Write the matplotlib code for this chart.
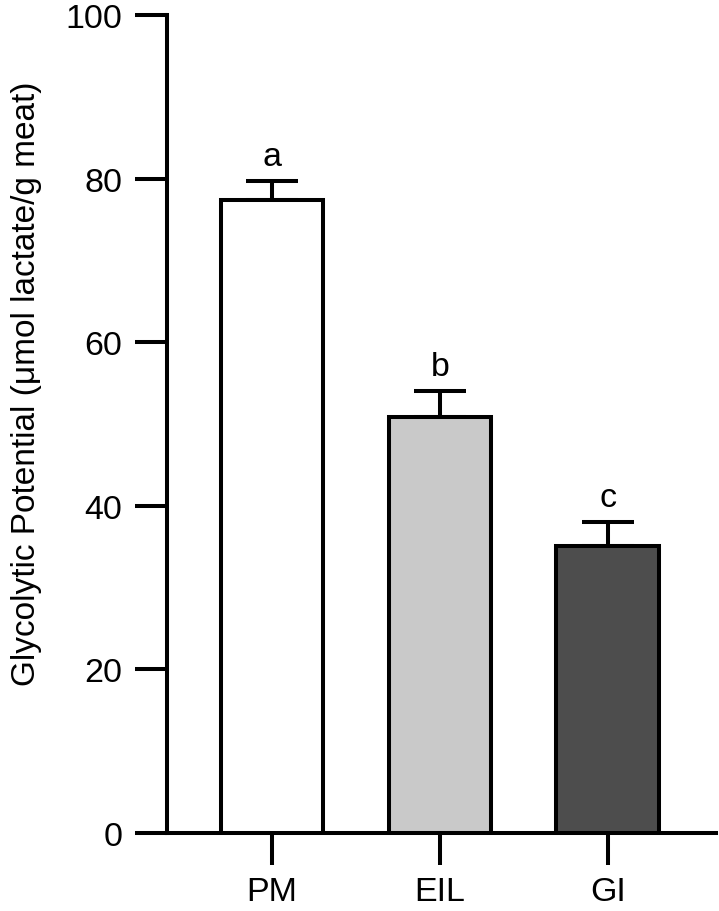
import numpy as np
import matplotlib.pyplot as plt

plt.rcParams['font.family'] = ['Liberation Sans', 'DejaVu Sans']

# --- DATA ---
groups = ['PM', 'EIL', 'GI']
means = [77.4, 50.9, 35.1]
sem = [2.3, 3.1, 2.9]
letters = ['a', 'b', 'c']
colors = ['#ffffff', '#c9c9c9', '#4d4d4d']
yticks = [0, 20, 40, 60, 80, 100]

LW = 2.9
FS = 24.5

fig = plt.figure(figsize=(7.19, 9.12), dpi=100)
ax = fig.add_axes([0.2323, 0.0855, 0.9958 - 0.2323, 0.9825 - 0.0855])

x = np.arange(len(groups))
ax.bar(x, means, width=0.613, color=colors, edgecolor='black', linewidth=LW, zorder=3)
ax.errorbar(x, means, yerr=[np.zeros(len(sem)), sem], fmt='none', ecolor='black',
            elinewidth=LW, capsize=18.5, capthick=LW, zorder=2)

for xi, m, s, lab in zip(x, means, sem, letters):
    ax.text(xi, m + s + 2.0, lab, ha='center', va='baseline', fontsize=FS)

ax.set_xlim(-0.625, 2.643)
ax.set_ylim(0, 100)
ax.set_xticks(x)
ax.set_xticklabels(groups)
ax.set_yticks(yticks)

# y label sits a bit above the axis centre in the reference
fig.text(27 / 719, 0.579, 'Glycolytic Potential (μmol lactate/g meat)',
         rotation=90, ha='center', va='center', fontsize=24)

for side in ['top', 'right']:
    ax.spines[side].set_visible(False)
for side in ['left', 'bottom']:
    ax.spines[side].set_linewidth(LW)
ax.tick_params(axis='both', length=23, width=LW, labelsize=FS)
ax.tick_params(axis='y', pad=9)
ax.tick_params(axis='x', pad=8)

fig.savefig('out.png', dpi=100)
